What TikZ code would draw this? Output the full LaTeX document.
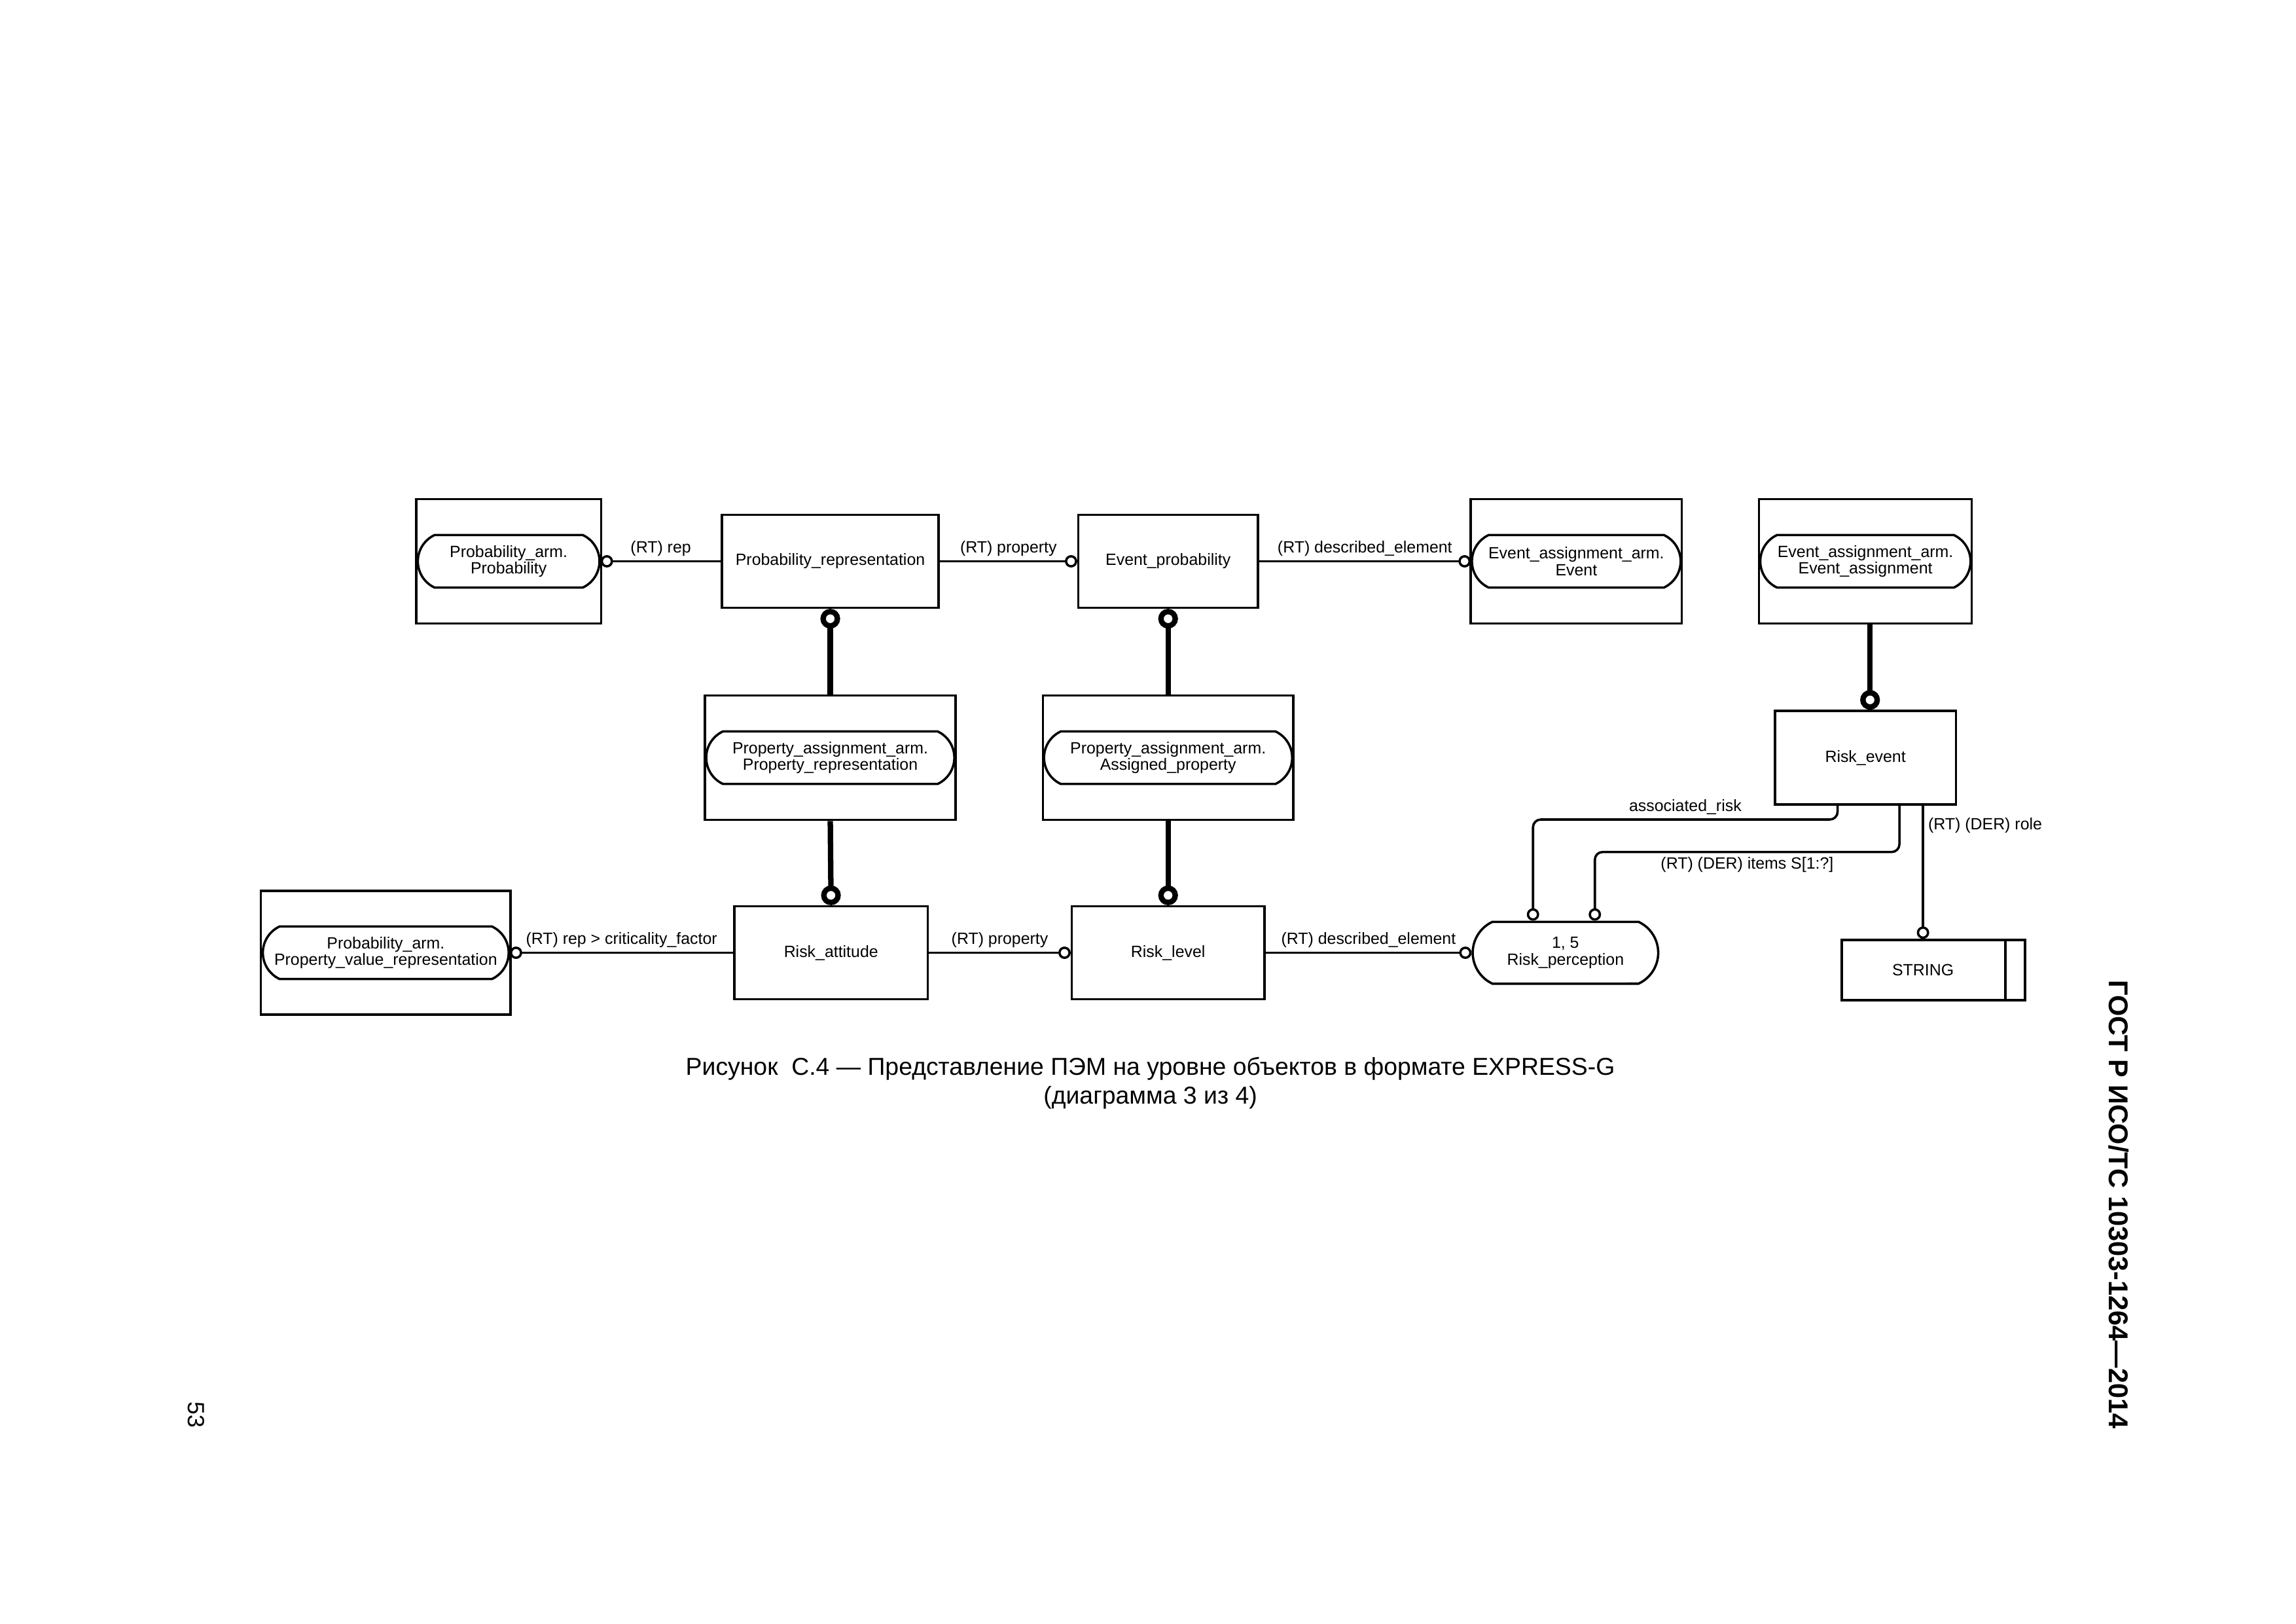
\documentclass[tikz,border=0pt]{standalone}
\usepackage{fontspec}
\setmainfont{Liberation Sans}
\usetikzlibrary{arrows.meta,shapes.misc}

\tikzset{
	entity/.style={draw, line width=0.3mm, minimum height=1.2cm, inner sep=0pt, font=\fontsize{6}{6.2}\selectfont},
	mapbox/.style={draw, line width=0.3mm, minimum height=1.61cm, inner sep=0pt},
	pill/.style={draw, line width=0.3mm, rounded rectangle, rounded rectangle arc length=130, minimum height=0.68cm, inner sep=0pt, align=center, font=\fontsize{6}{6.2}\selectfont},
	rel/.style={line width=0.3mm, -{Circle[open, length=1.6mm]}},
	sub/.style={line width=0.7mm, -{Circle[open, length=2.55mm]}},
	lbl/.style={font=\fontsize{6}{6.2}\selectfont, inner sep=1.5pt},
}

\begin{document}
\begin{tikzpicture}
	\useasboundingbox (0,0) rectangle (29.7,21);
	% top row
	\node[mapbox, minimum width=2.39cm] (probarm) at (6.58,13.74) {};
	\node[pill, minimum width=2.35cm] (probarmP) at (probarm.center) {Probability\_arm.\\Probability};
	\node[entity, minimum width=2.8cm] (probrep) at (10.74,13.74) {Probability\_representation};
	\node[entity, minimum width=2.32cm] (evprob) at (15.11,13.74) {Event\_probability};
	\node[mapbox, minimum width=2.73cm] (evarm) at (20.39,13.74) {};
	\node[pill, minimum width=2.7cm] (evarmP) at (evarm.center) {Event\_assignment\_arm.\\Event};
	\node[mapbox, minimum width=2.75cm] (evassign) at (24.13,13.74) {};
	\node[pill, minimum width=2.72cm] (evassignP) at (evassign.center) {Event\_assignment\_arm.\\Event\_assignment};
	% middle row
	\node[mapbox, minimum width=3.24cm] (propA) at (10.74,11.2) {};
	\node[pill, minimum width=3.21cm] (propAP) at (propA.center) {Property\_assignment\_arm.\\Property\_representation};
	\node[mapbox, minimum width=3.24cm] (propB) at (15.11,11.2) {};
	\node[pill, minimum width=3.21cm] (propBP) at (propB.center) {Property\_assignment\_arm.\\Assigned\_property};
	\node[entity, minimum width=2.34cm, minimum height=1.21cm] (riskev) at (24.13,11.2) {Risk\_event};
	% bottom row
	\node[mapbox, minimum width=3.23cm, minimum height=1.6cm] (pvr) at (4.99,8.677) {};
	\node[pill, minimum width=3.18cm] (pvrP) at (pvr.center) {Probability\_arm.\\Property\_value\_representation};
	\node[entity, minimum width=2.5cm] (riskatt) at (10.75,8.677) {Risk\_attitude};
	\node[entity, minimum width=2.49cm] (risklev) at (15.11,8.677) {Risk\_level};
	\node[pill, minimum width=2.4cm, minimum height=0.8cm] (riskper) at (20.25,8.677) {1, 5\\Risk\_perception};
	\node[entity, minimum width=2.37cm, minimum height=0.78cm] (string) at (25.01,8.452) {STRING\hspace*{2.7mm}};
	\draw[line width=0.3mm] ([xshift=-2.7mm]string.north east) -- ([xshift=-2.7mm]string.south east);

	% supertype lines
	\draw[sub] (propA.north) -- (probrep.south);
	\draw[sub] (propA.south) -- (riskatt.north);
	\draw[sub] (propB.north) -- (evprob.south);
	\draw[sub] (propB.south) -- (risklev.north);
	\draw[sub] ([xshift=0.6mm]evassign.south) -- ([xshift=0.6mm]riskev.north);

	% attributes
	\draw[rel] (probrep.west) -- node[lbl, above] {(RT) rep} (probarmP.east);
	\draw[rel] (probrep.east) -- node[lbl, above] {(RT) property} (evprob.west);
	\draw[rel] (evprob.east) -- node[lbl, above] {(RT) described\_element} (evarmP.west);
	\draw[rel] (riskatt.west) -- node[lbl, above] {(RT) rep > criticality\_factor} (pvrP.east);
	\draw[rel] (riskatt.east) -- node[lbl, above] {(RT) property} (risklev.west);
	\draw[rel] (risklev.east) -- node[lbl, above] {(RT) described\_element} (riskper.west);

	% risk event attributes
	\coordinate (ar1) at ([xshift=-3.6mm]riskev.south);
	\coordinate (ar2) at ([xshift=-4.2mm]riskper.north);
	\coordinate (it1) at ([xshift=4.4mm]riskev.south);
	\coordinate (it2) at ([xshift=3.8mm]riskper.north);
	\coordinate (ro1) at ([xshift=7.45mm]riskev.south);
	\draw[rel, rounded corners=1mm] (ar1) -- ++(0,-0.18) -| node[lbl, pos=0.25, above] {associated\_risk} (ar2);
	\draw[rel, rounded corners=1mm] (it1) -- ++(0,-0.6) -| node[lbl, pos=0.25, below] {(RT) (DER) items S[1:?]} (it2);
	\draw[rel] (ro1) -- node[lbl, pos=0.15, right] {(RT) (DER) role} (ro1 |- string.north);

	% caption and page
	\node[font=\fontsize{9}{10.6}\selectfont, align=center] (caption) at (14.88,6.99) {Рисунок~~С.4 — Представление ПЭМ на уровне объектов в формате EXPRESS-G\\(диаграмма 3 из 4)};
	\node[rotate=-90, font=\fontsize{10}{12}\selectfont\bfseries] (gost) at (27.41,5.42) {ГОСТ Р ИСО/ТС 10303-1264—2014};
	\node[rotate=-90, font=\fontsize{8.6}{10}\selectfont] (page) at (2.54,2.7) {53};
\end{tikzpicture}
\end{document}
